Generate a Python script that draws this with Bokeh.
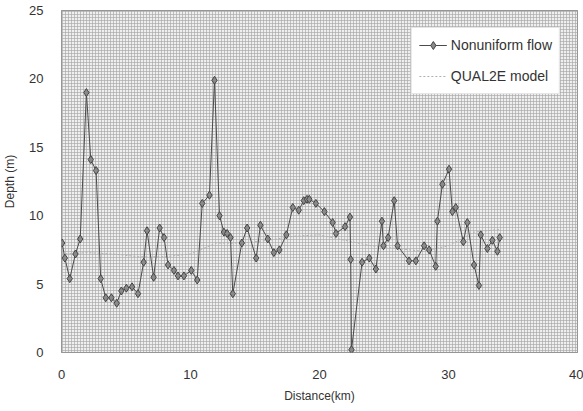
from bokeh.plotting import figure
from bokeh.models import Legend, LegendItem, BoxAnnotation, FixedTicker
from bokeh.embed import file_html
from bokeh.resources import INLINE

# Nonuniform flow (distance km, depth m)
flow_x = [0.05, 0.26, 0.64, 1.08, 1.45, 1.93, 2.27, 2.68, 3.04, 3.43, 3.87, 4.28,
          4.64, 5.03, 5.47, 5.93, 6.37, 6.63, 7.14, 7.61, 7.95, 8.26, 8.72, 9.03,
          9.49, 10.06, 10.52, 10.91, 11.47, 11.86, 12.25, 12.59, 12.84, 13.10, 13.28,
          13.98, 14.39, 15.09, 15.42, 15.99, 16.46, 16.89, 17.43, 17.93, 18.39, 18.78,
          19.03, 19.21, 19.72, 20.38, 21.02, 21.28, 21.98, 22.36, 22.42, 22.48, 23.30,
          23.86, 24.37, 24.84, 24.96, 25.32, 25.79, 26.05, 26.94, 27.47, 28.11, 28.50,
          29.01, 29.14, 29.53, 30.04, 30.30, 30.56, 31.15, 31.46, 31.98, 32.36, 32.50,
          33.01, 33.40, 33.79, 33.97]
flow_y = [8.0, 6.9, 5.4, 7.2, 8.3, 19.0, 14.1, 13.3, 5.4, 4.0, 4.0, 3.6,
          4.5, 4.7, 4.8, 4.3, 6.6, 8.9, 5.5, 9.1, 8.4, 6.4, 6.0, 5.6,
          5.6, 6.0, 5.3, 10.9, 11.5, 19.9, 10.0, 8.8, 8.7, 8.4, 4.3,
          8.0, 9.1, 6.9, 9.3, 8.3, 7.3, 7.5, 8.6, 10.6, 10.4, 11.1,
          11.2, 11.2, 10.9, 10.3, 9.5, 8.7, 9.2, 9.9, 6.8, 0.2, 6.6,
          6.9, 6.1, 9.6, 7.8, 8.4, 11.1, 7.8, 6.7, 6.7, 7.8, 7.5,
          6.3, 9.6, 12.3, 13.4, 10.3, 10.6, 8.1, 9.5, 6.4, 4.9, 8.6,
          7.6, 8.2, 7.4, 8.4]

# QUAL2E model (approximate, faint dotted line)
model_x = [0, 2, 4, 6, 8, 10, 12, 14, 16, 18, 20, 22, 24, 26, 28, 30, 32, 34]
model_y = [7.2, 7.3, 7.2, 7.0, 7.0, 7.2, 8.0, 8.0, 8.2, 8.5, 8.6, 8.2, 7.8, 7.6, 7.4, 7.8, 8.8, 9.0]

x_ticks = [0, 10, 20, 30, 40]
y_ticks = [0, 5, 10, 15, 20, 25]

FONT = "Liberation Sans"
TXT = "#333333"

p = figure(width=583, height=411, x_range=(0, 40), y_range=(0, 25),
           output_backend="svg", toolbar_location=None,
           min_border_left=60, min_border_right=6, min_border_top=10, min_border_bottom=59)

p.background_fill_color = "#f2f2f2"
p.border_fill_color = "white"
p.outline_line_color = "#777777"
p.outline_line_width = 1

# stippled background
bg = BoxAnnotation(fill_color="#efefef", fill_alpha=1.0, line_color=None,
                   hatch_pattern="+", hatch_color="#a8a8a8", hatch_scale=3,
                   hatch_weight=1, hatch_alpha=0.65, level="underlay")
p.add_layout(bg)

p.xgrid.grid_line_color = None
p.ygrid.grid_line_color = "#bbbbbb"
p.ygrid.grid_line_dash = "3 3"
p.ygrid.grid_line_alpha = 0.7

p.xaxis.ticker = FixedTicker(ticks=x_ticks)
p.yaxis.ticker = FixedTicker(ticks=y_ticks)
for ax in (p.xaxis, p.yaxis):
    ax.axis_line_color = None
    ax.major_tick_line_color = None
    ax.minor_tick_line_color = None
    ax.major_label_text_font = FONT
    ax.major_label_text_font_size = "13px"
    ax.major_label_text_color = TXT
    ax.axis_label_text_font = FONT
    ax.axis_label_text_font_size = "12px"
    ax.axis_label_text_font_style = "normal"
    ax.axis_label_text_color = TXT
p.xaxis.major_label_standoff = 11
p.yaxis.major_label_standoff = 12
p.xaxis.axis_label = "Distance(km)"
p.yaxis.axis_label = "Depth (m)"
p.xaxis.axis_label_standoff = 7
p.yaxis.axis_label_standoff = 9

model_line = p.line(model_x, model_y, line_color="#b0b0b0", line_width=1, line_dash="2 2")

flow_line = p.line(flow_x, flow_y, line_color="#4a4a4a", line_width=1)
flow_pts = p.scatter(flow_x, flow_y, marker="diamond", size=8, fill_color="#8a8a8a",
                     line_color="#444444", line_width=1)

legend = Legend(items=[
    LegendItem(label="Nonuniform flow", renderers=[flow_line, flow_pts]),
    LegendItem(label="QUAL2E model", renderers=[model_line]),
], location="top_right")
legend.label_text_font = FONT
legend.label_text_font_size = "14px"
legend.label_text_color = TXT
legend.border_line_color = "#cccccc"
legend.background_fill_color = "white"
legend.background_fill_alpha = 1.0
legend.margin = 17
legend.padding = 7
legend.spacing = 11
legend.glyph_width = 28
legend.label_standoff = 4
p.add_layout(legend)

open("out.html", "w").write(file_html(p, INLINE))
